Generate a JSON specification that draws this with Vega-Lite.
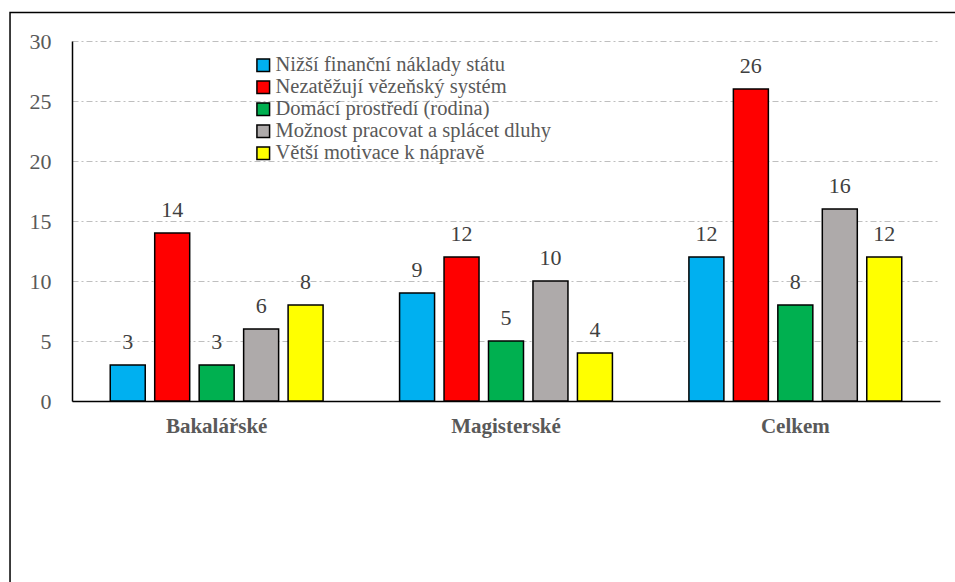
{
  "$schema": "https://vega.github.io/schema/vega-lite/v6.json",
  "autosize": {"type": "none"},
  "padding": {"left": 72, "top": 41, "right": 15, "bottom": 181},
  "width": 868,
  "height": 360,
  "background": "white",
  "config": {
    "view": {"stroke": null},
    "font": "Liberation Serif"
  },
  "layer": [
    {
      "data": {
        "values": [
          {"skupina": "Bakalářské", "duvod": "Nižší finanční náklady státu", "hodnota": 3},
          {"skupina": "Bakalářské", "duvod": "Nezatěžují vězeňský systém", "hodnota": 14},
          {"skupina": "Bakalářské", "duvod": "Domácí prostředí (rodina)", "hodnota": 3},
          {"skupina": "Bakalářské", "duvod": "Možnost pracovat a splácet dluhy", "hodnota": 6},
          {"skupina": "Bakalářské", "duvod": "Větší motivace k nápravě", "hodnota": 8},
          {"skupina": "Magisterské", "duvod": "Nižší finanční náklady státu", "hodnota": 9},
          {"skupina": "Magisterské", "duvod": "Nezatěžují vězeňský systém", "hodnota": 12},
          {"skupina": "Magisterské", "duvod": "Domácí prostředí (rodina)", "hodnota": 5},
          {"skupina": "Magisterské", "duvod": "Možnost pracovat a splácet dluhy", "hodnota": 10},
          {"skupina": "Magisterské", "duvod": "Větší motivace k nápravě", "hodnota": 4},
          {"skupina": "Celkem", "duvod": "Nižší finanční náklady státu", "hodnota": 12},
          {"skupina": "Celkem", "duvod": "Nezatěžují vězeňský systém", "hodnota": 26},
          {"skupina": "Celkem", "duvod": "Domácí prostředí (rodina)", "hodnota": 8},
          {"skupina": "Celkem", "duvod": "Možnost pracovat a splácet dluhy", "hodnota": 16},
          {"skupina": "Celkem", "duvod": "Větší motivace k nápravě", "hodnota": 12}
        ]
      },
      "encoding": {
        "x": {
          "field": "skupina", "type": "nominal",
          "sort": ["Bakalářské", "Magisterské", "Celkem"],
          "scale": {"paddingInner": 0, "paddingOuter": 0},
          "axis": {
            "title": null, "labelAngle": 0, "ticks": false,
            "domainColor": "#000000", "domainWidth": 1.5,
            "labelFont": "Liberation Serif",
            "labelFontSize": 21, "labelFontWeight": "bold",
            "labelColor": "#595959", "labelPadding": 14
          }
        },
        "xOffset": {
          "field": "duvod", "type": "nominal",
          "sort": ["Nižší finanční náklady státu", "Nezatěžují vězeňský systém", "Domácí prostředí (rodina)", "Možnost pracovat a splácet dluhy", "Větší motivace k nápravě"],
          "scale": {"paddingInner": 0.213, "paddingOuter": 0.86}
        },
        "y": {
          "field": "hodnota", "type": "quantitative",
          "scale": {"domain": [0, 30], "nice": false},
          "axis": {
            "title": null, "values": [0, 5, 10, 15, 20, 25, 30], "ticks": false,
            "domainColor": "#000000", "domainWidth": 1.5,
            "grid": true, "gridColor": "#bfbfbf", "gridDash": [6, 3, 2, 3], "gridWidth": 1,
            "labelFont": "Liberation Serif",
            "labelFontSize": 22, "labelColor": "#595959",
            "labelPadding": 21
          }
        }
      },
      "layer": [
        {
          "mark": {"type": "bar", "stroke": "#000000", "strokeWidth": 1.5},
          "encoding": {
            "color": {
              "field": "duvod", "type": "nominal",
              "sort": ["Nižší finanční náklady státu", "Nezatěžují vězeňský systém", "Domácí prostředí (rodina)", "Možnost pracovat a splácet dluhy", "Větší motivace k nápravě"],
              "scale": {"range": ["#00B0F0", "#FF0000", "#00B050", "#AEAAAA", "#FFFF00"]},
              "legend": {
                "title": null, "orient": "none", "legendX": 181, "legendY": 14,
                "symbolType": "square", "symbolSize": 160, "symbolStrokeColor": "#000000",
                "symbolStrokeWidth": 1.5, "symbolOpacity": 1,
                "labelFont": "Liberation Serif",
                "labelFontSize": 20.5, "labelColor": "#595959",
                "labelOffset": 2, "rowPadding": 1, "labelLimit": 400
              }
            }
          }
        },
        {
          "mark": {"type": "text", "font": "Liberation Serif", "fontSize": 22, "color": "#404040", "baseline": "alphabetic", "dy": -16.5},
          "encoding": {
            "text": {"field": "hodnota", "type": "quantitative"}
          }
        }
      ]
    },
    {
      "data": {"values": [{"ram": "okraj"}]},
      "mark": {"type": "rect", "fill": null, "fillOpacity": 0, "stroke": "#000000", "strokeWidth": 1.5},
      "encoding": {
        "x": {"datum": -0.0714, "type": "quantitative", "scale": {"domain": [0, 1], "nice": false, "zero": false}, "axis": null},
        "x2": {"datum": 1.2},
        "y": {"datum": 1.0792, "type": "quantitative", "scale": {"domain": [0, 1], "nice": false, "zero": false}, "axis": null},
        "y2": {"datum": -0.8}
      }
    }
  ],
  "resolve": {"scale": {"x": "independent", "y": "independent"}}
}
